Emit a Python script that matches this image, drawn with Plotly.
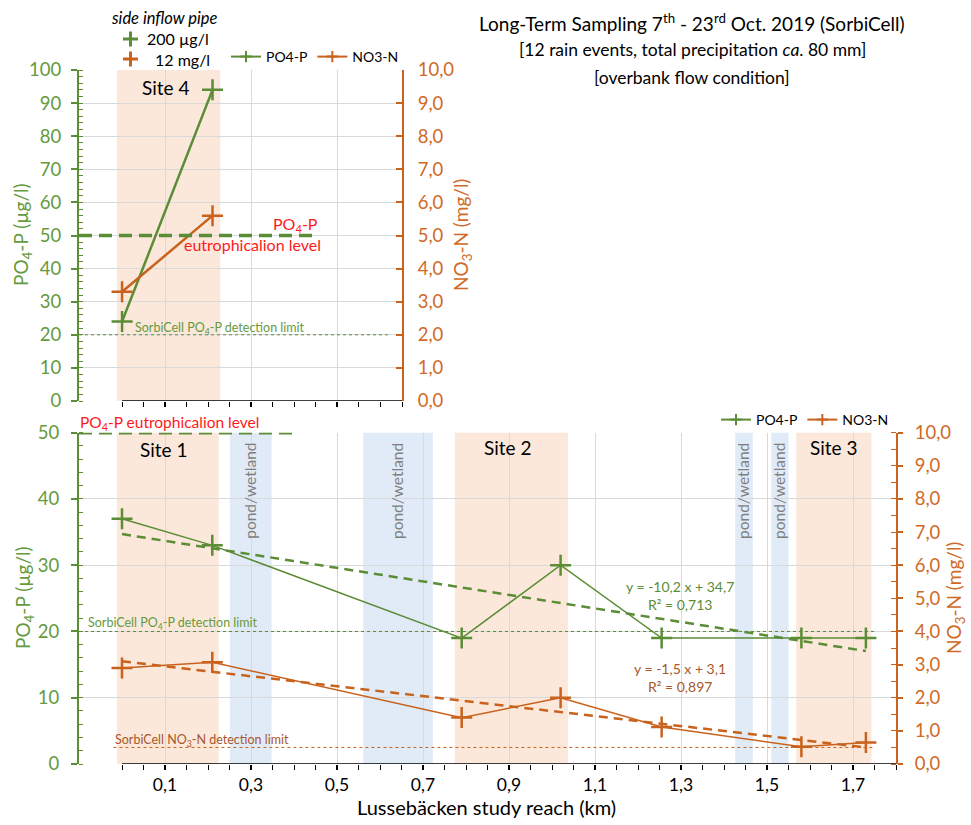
import plotly.graph_objects as go

W, H = 971, 825


def px(x):
    return x / W


def py(y):
    return 1 - y / H


# ---------------- data ----------------
top_km = [0.0, 0.21]
top_po4 = [24, 94]
top_no3 = [3.3, 5.6]

km = [0.0, 0.21, 0.79, 1.02, 1.255, 1.58, 1.73]
po4 = [37, 33, 19, 30, 19, 19, 19]
no3 = [2.9, 3.07, 1.4, 2.0, 1.12, 0.52, 0.65]

trend_km = [0.0, 1.73]
po4_trend = [34.7, 17.05]
no3_trend = [3.1, 0.5]

eutroph_po4 = 50
detect_po4 = 20
detect_no3 = 0.5

site4_band = (-0.012, 0.228)
site_bands = [("Site 1", -0.012, 0.225), ("Site 2", 0.774, 1.037), ("Site 3", 1.568, 1.743)]
pond_bands = [(0.251, 0.348), (0.561, 0.723), (1.426, 1.467), (1.510, 1.550)]

x_ticks_bottom = [0.1, 0.3, 0.5, 0.7, 0.9, 1.1, 1.3, 1.5, 1.7]
x_ticks_top = [0.1, 0.3, 0.5]

# ---------------- styles ----------------
FONT = "Lato, 'Open Sans', sans-serif"
GREEN = "#5B8C36"
GREEN_T = "#659A40"
ORANGE = "#C8621D"
ORANGE_T = "#D06A26"
BROWN = "#A8582A"
RED = "#FF1A1A"
PEACH = "#FBE8DA"
BLUE = "#E1EBF7"
GRID = "#D9D9D9"

fig = go.Figure()

# ---------------- top subplot traces ----------------
fig.add_trace(go.Scatter(x=top_km, y=top_po4, mode="lines+markers", xaxis="x", yaxis="y",
                         line=dict(color=GREEN, width=2.5),
                         marker=dict(symbol="cross-thin", size=15, line=dict(color=GREEN, width=2.5)),
                         showlegend=False, hoverinfo="skip"))
fig.add_trace(go.Scatter(x=top_km, y=top_no3, mode="lines+markers", xaxis="x", yaxis="y2",
                         line=dict(color=ORANGE, width=2.5),
                         marker=dict(symbol="cross-thin", size=15, line=dict(color=ORANGE, width=2.5)),
                         showlegend=False, hoverinfo="skip"))

# ---------------- bottom subplot traces ----------------
fig.add_trace(go.Scatter(x=trend_km, y=po4_trend, mode="lines", xaxis="x2", yaxis="y3",
                         line=dict(color=GREEN, width=2.5, dash="9px,6px"), showlegend=False,
                         hoverinfo="skip"))
fig.add_trace(go.Scatter(x=trend_km, y=no3_trend, mode="lines", xaxis="x2", yaxis="y4",
                         line=dict(color=ORANGE, width=2.5, dash="9px,6px"), showlegend=False,
                         hoverinfo="skip"))
fig.add_trace(go.Scatter(x=km, y=po4, mode="lines+markers", xaxis="x2", yaxis="y3",
                         line=dict(color=GREEN, width=1.5),
                         marker=dict(symbol="cross-thin", size=15, line=dict(color=GREEN, width=2.5)),
                         showlegend=False, hoverinfo="skip"))
fig.add_trace(go.Scatter(x=km, y=no3, mode="lines+markers", xaxis="x2", yaxis="y4",
                         line=dict(color=ORANGE, width=1.5),
                         marker=dict(symbol="cross-thin", size=15, line=dict(color=ORANGE, width=2.5)),
                         showlegend=False, hoverinfo="skip"))

# ---------------- legend-only traces ----------------
for lg, xa, ya1, ya2 in [("legend", "x", "y", "y2"), ("legend2", "x2", "y3", "y4")]:
    fig.add_trace(go.Scatter(x=[None], y=[None], mode="lines+markers", name="PO4-P", xaxis=xa, yaxis=ya1,
                             line=dict(color=GREEN, width=2),
                             marker=dict(symbol="cross-thin", size=8, line=dict(color=GREEN, width=2)),
                             legend=lg))
    fig.add_trace(go.Scatter(x=[None], y=[None], mode="lines+markers", name="NO3-N", xaxis=xa, yaxis=ya2,
                             line=dict(color=ORANGE, width=2),
                             marker=dict(symbol="cross-thin", size=8, line=dict(color=ORANGE, width=2)),
                             legend=lg))

# ---------------- shapes ----------------
shapes = []
shapes.append(dict(type="rect", xref="x", yref="y domain", x0=site4_band[0], x1=site4_band[1], y0=0, y1=1,
                   fillcolor=PEACH, line=dict(width=0), layer="below"))
for name, a, b in site_bands:
    shapes.append(dict(type="rect", xref="x2", yref="y3 domain", x0=a, x1=b, y0=0, y1=1,
                       fillcolor=PEACH, line=dict(width=0), layer="below"))
for a, b in pond_bands:
    shapes.append(dict(type="rect", xref="x2", yref="y3 domain", x0=a, x1=b, y0=0, y1=1,
                       fillcolor=BLUE, line=dict(width=0), layer="below"))

# eutrophication levels
shapes.append(dict(type="line", xref="x", yref="y", x0=-0.1, x1=0.456, y0=eutroph_po4, y1=eutroph_po4,
                   line=dict(color=GREEN, width=3.5, dash="13px,7px")))
shapes.append(dict(type="line", xref="x2", yref="y3", x0=-0.1, x1=0.41, y0=eutroph_po4, y1=eutroph_po4,
                   line=dict(color=GREEN, width=3.5, dash="13px,7px")))
# detection limits
shapes.append(dict(type="line", xref="x", yref="y", x0=-0.1, x1=0.62, y0=detect_po4, y1=detect_po4,
                   line=dict(color=GREEN, width=1, dash="dot")))
shapes.append(dict(type="line", xref="x2", yref="y3", x0=-0.1, x1=1.75, y0=detect_po4, y1=detect_po4,
                   line=dict(color=GREEN, width=1, dash="dot")))
shapes.append(dict(type="line", xref="x2", yref="y4", x0=-0.02, x1=1.75, y0=detect_no3, y1=detect_no3,
                   line=dict(color=ORANGE, width=1, dash="dot")))
# x axis lines (start at 0 km)
shapes.append(dict(type="line", xref="x", yref="y", x0=0, x1=0.65, y0=0, y1=0,
                   line=dict(color="black", width=1.5)))
shapes.append(dict(type="line", xref="x2", yref="y3", x0=0, x1=1.8, y0=0, y1=0,
                   line=dict(color="black", width=1.5)))

# side-inflow-pipe key crosses (legend symbols)
for cy, col in [(39, GREEN), (59, ORANGE)]:
    shapes.append(dict(type="line", xref="paper", yref="paper", x0=px(123), x1=px(138), y0=py(cy), y1=py(cy),
                       line=dict(color=col, width=3)))
    shapes.append(dict(type="line", xref="paper", yref="paper", x0=px(130.5), x1=px(130.5),
                       y0=py(cy - 7.5), y1=py(cy + 7.5), line=dict(color=col, width=3)))

# ---------------- annotations ----------------
ann = []


def text(x, y, t, size=14, color="black", xanchor="center", yanchor="middle", angle=0, italic=False):
    ann.append(dict(x=px(x), y=py(y), xref="paper", yref="paper", text=t, showarrow=False,
                    xanchor=xanchor, yanchor=yanchor, textangle=angle,
                    font=dict(family=FONT, size=size, color=color,
                              style="italic" if italic else "normal")))


text(692, 23, "Long-Term Sampling 7<sup>th</sup> - 23<sup>rd</sup> Oct. 2019 (SorbiCell)", 19)
text(692, 50, "[12 rain events, total precipitation <i>ca</i>. 80 mm]", 17.5)
text(692, 77, "[overbank flow condition]", 17.5)

text(164, 18, "side inflow pipe", 16.5, italic=True)
text(145, 39, "200 µg/l", 16, xanchor="left")
text(153, 59, "12 mg/l", 16, xanchor="left")

text(165, 87, "Site 4", 19)
text(295, 225, "PO<sub>4</sub>-P", 16, RED)
text(253, 244, "eutrophicalion level", 16, RED)
text(220, 328, "SorbiCell PO<sub>4</sub>-P detection limit", 12.5, GREEN_T)

text(78, 423, "PO<sub>4</sub>-P eutrophicalion level", 15.5, RED, xanchor="left")
text(163, 450, "Site 1", 19)
text(508, 447, "Site 2", 19)
text(833, 447, "Site 3", 19)
for a, b in pond_bands:
    cx = 121 + (a + b) / 2 * 430
    text(cx, 491, "pond/wetland", 15.5, "#7F7F7F", angle=-90)
text(86, 623, "SorbiCell PO<sub>4</sub>-P detection limit", 12.5, GREEN_T, xanchor="left")
text(113, 740, "SorbiCell NO<sub>3</sub>-N detection limit", 12.5, BROWN, xanchor="left")
text(680, 586, "y = -10,2 x + 34,7", 14, GREEN)
text(680, 604, "R² = 0,713", 14, GREEN)
text(680, 668, "y = -1,5 x + 3,1", 14, BROWN)
text(680, 686, "R² = 0,897", 14, BROWN)

text(22, 235, "PO<sub>4</sub>-P (µg/l)", 19, GREEN_T, angle=-90)
text(462, 235, "NO<sub>3</sub>-N (mg/l)", 19, ORANGE_T, angle=-90)
text(24, 598, "PO<sub>4</sub>-P (µg/l)", 19, GREEN_T, angle=-90)
text(955, 598, "NO<sub>3</sub>-N (mg/l)", 19, ORANGE_T, angle=-90)
text(487, 807, "Lussebäcken study reach (km)", 20)

# ---------------- axes ----------------
minor_top = [round(i * 0.05, 2) for i in range(0, 14)]
minor_bottom = [round(i * 0.05, 2) for i in range(0, 37)]

common_x = dict(showgrid=True, gridcolor=GRID, gridwidth=1, zeroline=False, showline=False,
                ticks="outside", ticklen=5, tickwidth=1.5, tickcolor="black")

fig.update_layout(
    width=W, height=H, autosize=False,
    margin=dict(l=0, r=0, t=0, b=0, pad=0, autoexpand=False),
    paper_bgcolor="white", plot_bgcolor="white",
    separators=",.",
    font=dict(family=FONT, size=15, color="black"),
    xaxis=dict(domain=[px(79), px(402)], range=[-0.1, 0.65], anchor="y",
               tickmode="array", tickvals=x_ticks_top, showticklabels=False,
               minor=dict(tickmode="array", tickvals=minor_top, ticks="outside", ticklen=5,
                          tickcolor="black", tickwidth=1.2, showgrid=False),
               **common_x),
    yaxis=dict(domain=[py(401), py(70)], range=[0, 100], anchor="x", dtick=10, tick0=0,
               showgrid=True, gridcolor=GRID, zeroline=False,
               showline=True, linecolor=GREEN, linewidth=2,
               ticks="outside", ticklen=6, tickwidth=2, tickcolor=GREEN,
               minor=dict(dtick=2, ticks="inside", ticklen=4, tickcolor=GREEN, tickwidth=1.2, showgrid=False),
               tickfont=dict(color=GREEN_T, size=18.5), ticklabelstandoff=6),
    yaxis2=dict(overlaying="y", side="right", anchor="x", range=[0, 10], dtick=1, tick0=0,
                tickformat=".1f", showgrid=False, zeroline=False,
                showline=True, linecolor=ORANGE, linewidth=2,
                ticks="inside", ticklen=6, tickwidth=2, tickcolor=ORANGE,
                tickfont=dict(color=ORANGE_T, size=18.5), ticklabelstandoff=10),
    xaxis2=dict(domain=[px(79), px(896)], range=[-0.1, 1.8], anchor="y3",
                tickmode="array", tickvals=x_ticks_bottom, tickformat=".1f",
                tickfont=dict(size=17.5, color="black"), ticklabelstandoff=0,
                minor=dict(tickmode="array", tickvals=minor_bottom, ticks="outside", ticklen=5,
                           tickcolor="black", tickwidth=1.2, showgrid=False),
                **common_x),
    yaxis3=dict(domain=[py(764), py(432.7)], range=[0, 50], anchor="x2", dtick=10, tick0=0,
                showgrid=True, gridcolor=GRID, zeroline=False,
                showline=True, linecolor=GREEN, linewidth=2,
                ticks="outside", ticklen=6, tickwidth=2, tickcolor=GREEN,
                minor=dict(dtick=2, ticks="inside", ticklen=4, tickcolor=GREEN, tickwidth=1.2, showgrid=False),
                tickfont=dict(color=GREEN_T, size=18.5), ticklabelstandoff=8),
    yaxis4=dict(overlaying="y3", side="right", anchor="x2", range=[0, 10], dtick=1, tick0=0,
                tickformat=".1f", showgrid=False, zeroline=False,
                showline=True, linecolor=ORANGE, linewidth=2,
                ticks="outside", ticklen=5, tickwidth=2, tickcolor=ORANGE,
                minor=dict(dtick=0.5, ticks="inside", ticklen=5, tickcolor=ORANGE, tickwidth=1.2, showgrid=False),
                tickfont=dict(color=ORANGE_T, size=18.5), ticklabelstandoff=8),
    legend=dict(x=px(226), y=py(57), xanchor="left", yanchor="middle", orientation="h",
                font=dict(size=14, family=FONT), bgcolor="rgba(0,0,0,0)", itemwidth=30,
                traceorder="normal"),
    legend2=dict(x=px(716), y=py(420), xanchor="left", yanchor="middle", orientation="h",
                 font=dict(size=14, family=FONT), bgcolor="rgba(0,0,0,0)", itemwidth=30,
                 traceorder="normal"),
    shapes=shapes,
    annotations=ann,
)

fig.write_html("out.html", post_script="document.body.style.margin='0px';",
               config={"displayModeBar": False})
